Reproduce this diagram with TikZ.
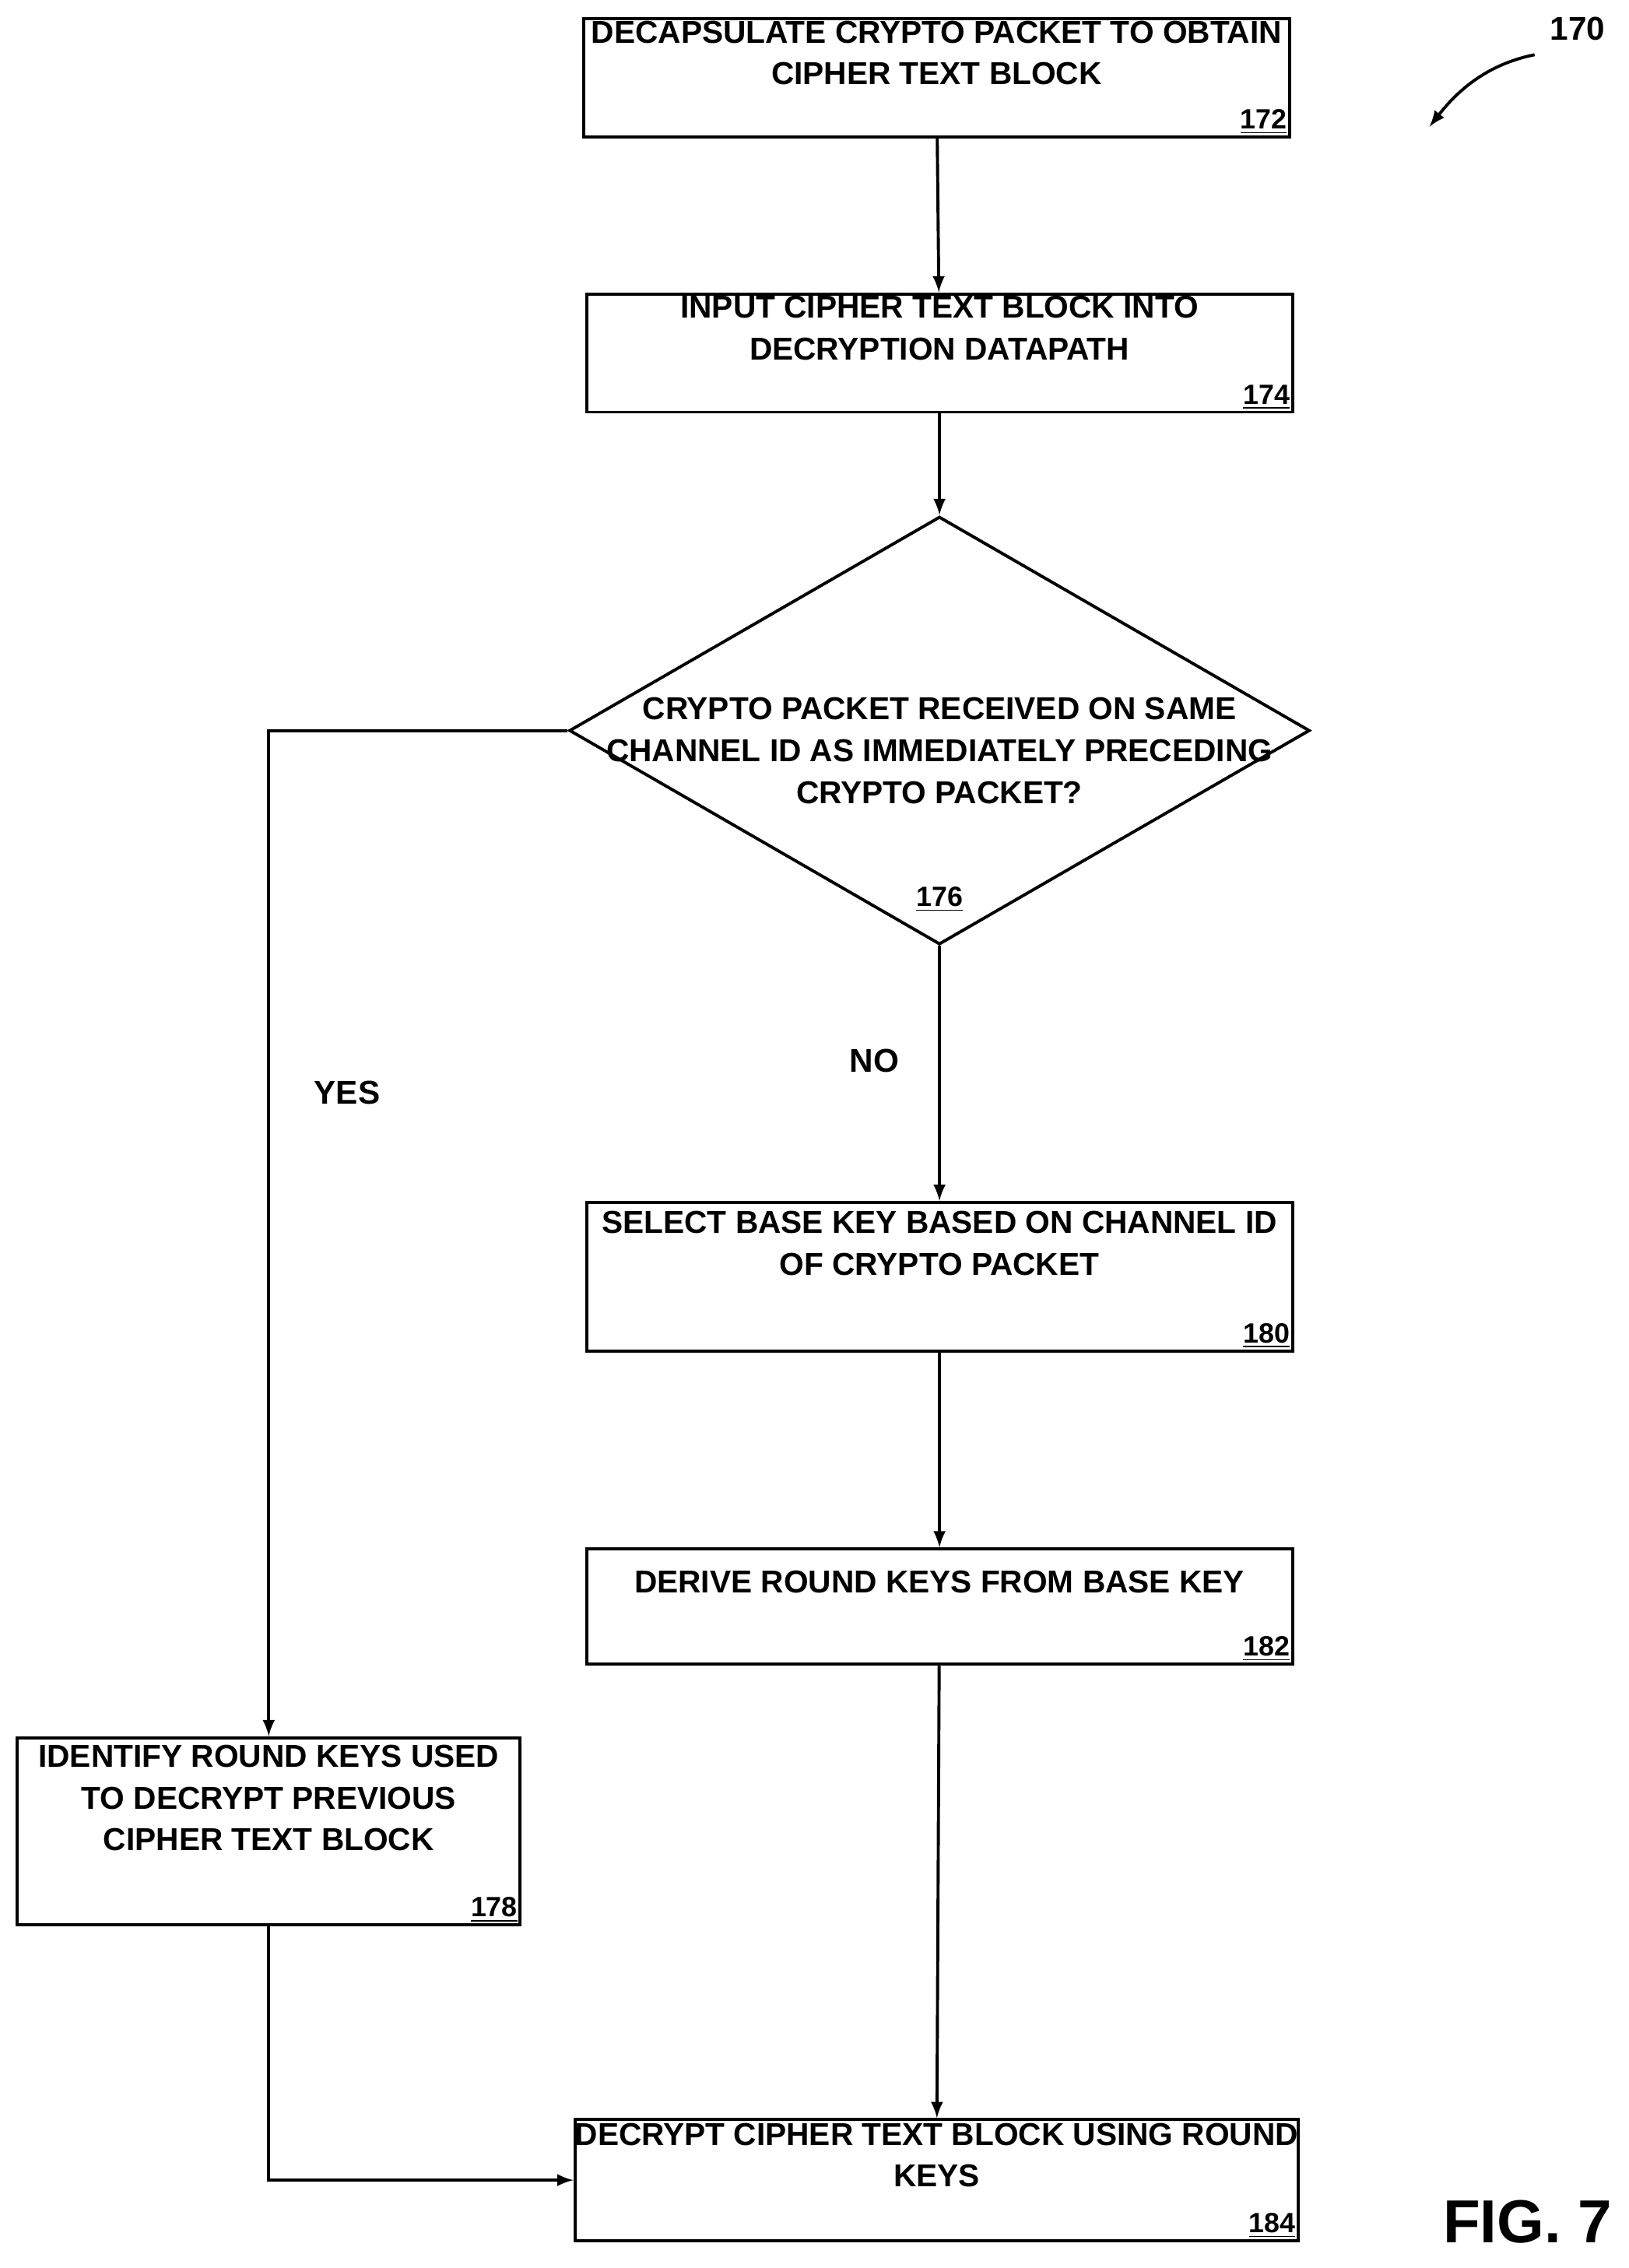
\documentclass[tikz,border=0pt]{standalone}
\usepackage{fontspec}
\setmainfont{Liberation Sans}
\usetikzlibrary{shapes.geometric}
\begin{document}
\begin{tikzpicture}[x=0.02cm,y=-0.02cm,
    box/.style={draw,line width=1.2pt,minimum width=9.8cm,minimum height=1.64cm,
      align=center,font=\bfseries\fontsize{12.5}{16.5}\selectfont,inner sep=0pt},
    refnum/.style={font=\bfseries\fontsize{11}{13}\selectfont,anchor=south east,inner sep=1.5pt},
    arr/.style={line width=1.2pt,-latex}]
  % bounding box
  \useasboundingbox (0,0) rectangle (1130,1574);
  % process boxes
  \node[box] (b172) at (650,54) {DECAPSULATE CRYPTO PACKET TO OBTAIN\\CIPHER TEXT BLOCK\\[0.5ex]};
  \node[refnum] at (b172.south east) {\underline{172}};
  \node[box] (b174) at (652,245) {INPUT CIPHER TEXT BLOCK INTO\\DECRYPTION DATAPATH\\[0.5ex]};
  \node[refnum] at (b174.south east) {\underline{174}};
  % decision
  \node[draw,diamond,line width=1.2pt,minimum width=10.28cm,minimum height=5.94cm,inner sep=0pt] (d176) at (652,507) {};
  \node[align=center,font=\bfseries\fontsize{12.5}{16.5}\selectfont] (t176) at (652,521)
    {CRYPTO PACKET RECEIVED ON SAME\\CHANNEL ID AS IMMEDIATELY PRECEDING\\CRYPTO PACKET?};
  \node[font=\bfseries\fontsize{11}{13}\selectfont] (n176) at (652,624) {\underline{176}};
  \node[box,minimum height=2.06cm] (b180) at (652,886) {SELECT BASE KEY BASED ON CHANNEL ID\\OF CRYPTO PACKET\\[1.5ex]};
  \node[refnum] at (b180.south east) {\underline{180}};
  \node[box,minimum height=1.6cm] (b182) at (652,1115) {DERIVE ROUND KEYS FROM BASE KEY\\[0.5ex]};
  \node[refnum] at (b182.south east) {\underline{182}};
  \node[box,minimum width=6.98cm,minimum height=2.6cm] (b178) at (186.5,1271) {IDENTIFY ROUND KEYS USED\\TO DECRYPT PREVIOUS\\CIPHER TEXT BLOCK\\[1.5ex]};
  \node[refnum] at (b178.south east) {\underline{178}};
  \node[box,minimum height=1.68cm] (b184) at (650,1513) {DECRYPT CIPHER TEXT BLOCK USING ROUND\\KEYS\\[0.5ex]};
  \node[refnum] at (b184.south east) {\underline{184}};
  % connectors
  \draw[arr] (b172) -- (b174);
  \draw[arr] (b174) -- (d176.north);
  \draw[arr] (d176.south) -- node[pos=0.45,left=12pt,font=\bfseries\fontsize{13}{15}\selectfont] {NO} (b180);
  \draw[arr] (b180) -- (b182);
  \draw[arr] (b182) -- (b184);
  \draw[arr] (d176.west) -| node[pos=0.68,right=14pt,font=\bfseries\fontsize{13}{15}\selectfont] {YES} (b178.north);
  \draw[arr] (b178.south) |- (b184.west);
  % figure labels
  \node[font=\bfseries\fontsize{13}{15}\selectfont] (l170) at (1095,20) {170};
  \coordinate (a170) at (992,88);
  \draw[arr] (1065,38) .. controls (1030,45) and (1010,65) .. (a170);
  \node[font=\bfseries\fontsize{24}{28}\selectfont] (fig) at (1060,1542) {FIG. 7};
\end{tikzpicture}
\end{document}
